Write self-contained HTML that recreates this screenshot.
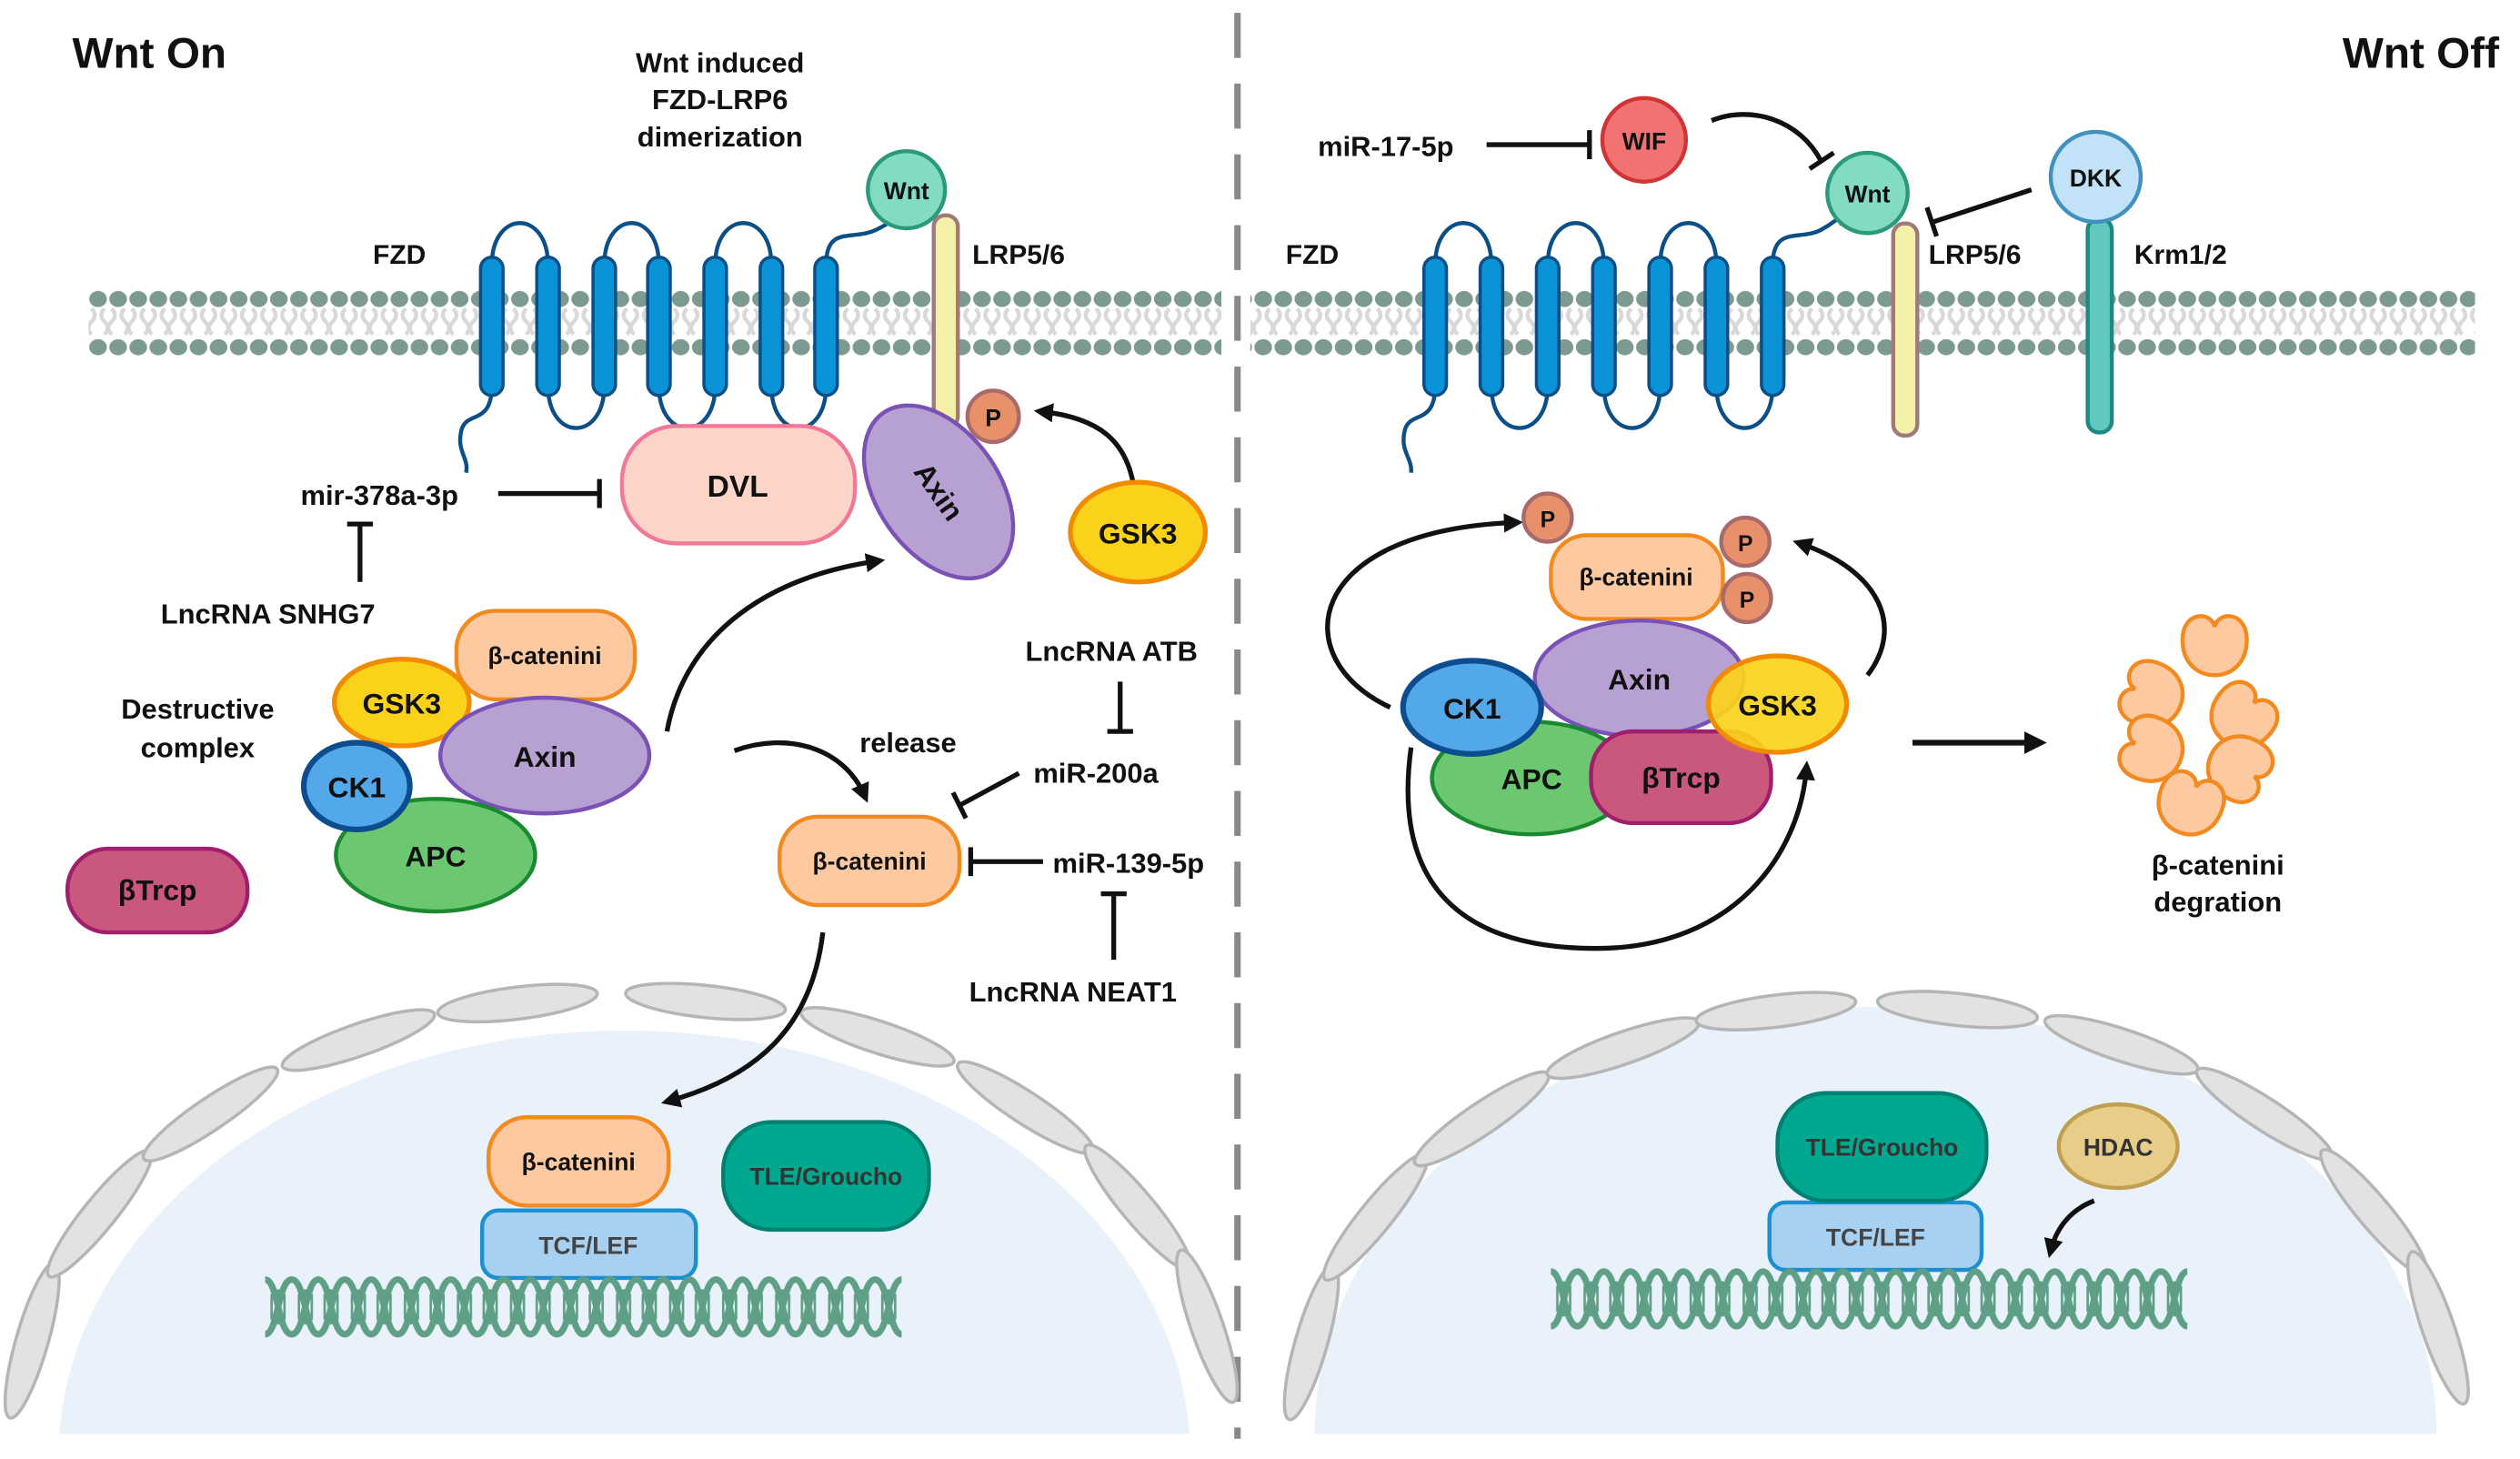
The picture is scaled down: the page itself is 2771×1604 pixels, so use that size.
<!DOCTYPE html>
<html><head><meta charset="utf-8"><style>
html,body{margin:0;padding:0;background:#fff;}
svg{display:block;}
text{font-family:"Liberation Sans",sans-serif;font-weight:bold;fill:#111;}
</style></head><body>
<svg width="2771" height="1604" viewBox="0 0 1568 907.6" xmlns="http://www.w3.org/2000/svg">
<defs>
<pattern id="heads" x="55" y="180" width="12.5" height="42" patternUnits="userSpaceOnUse">
<ellipse cx="6" cy="6" rx="5.5" ry="5" fill="#7d9a91"/>
<ellipse cx="6" cy="36" rx="5.5" ry="5" fill="#7d9a91"/>
<path d="M2,12 q4,4 0,8 q-4,4 0,8 M10,12 q-4,4 0,8 q4,4 0,8" stroke="#d8d8d8" stroke-width="2.5" fill="none"/>
</pattern>
<pattern id="dna" x="165" y="793" width="33" height="40" patternUnits="userSpaceOnUse">
<path d="M0,3 C8,3 8,37 16.5,37 C25,37 25,3 33,3" stroke="#5f9f85" stroke-width="4" fill="none"/>
<path d="M0,37 C8,37 8,3 16.5,3 C25,3 25,37 33,37" stroke="#5f9f85" stroke-width="4" fill="none"/>
<path d="M4,12 v16 M8,9 v22 M12,12 v16 M21,12 v16 M25,9 v22 M29,12 v16" stroke="#5f9f85" stroke-width="1.5"/>
</pattern>
<pattern id="dna2" x="965" y="788" width="33" height="40" patternUnits="userSpaceOnUse">
<path d="M0,3 C8,3 8,37 16.5,37 C25,37 25,3 33,3" stroke="#5f9f85" stroke-width="4" fill="none"/>
<path d="M0,37 C8,37 8,3 16.5,3 C25,3 25,37 33,37" stroke="#5f9f85" stroke-width="4" fill="none"/>
<path d="M4,12 v16 M8,9 v22 M12,12 v16 M21,12 v16 M25,9 v22 M29,12 v16" stroke="#5f9f85" stroke-width="1.5"/>
</pattern>
<marker id="ar" viewBox="0 0 10 10" refX="6" refY="5" markerWidth="4" markerHeight="4" orient="auto-start-reverse"><path d="M0,0 L10,5 L0,10 z" fill="#111"/></marker>
</defs>

<line x1="770" y1="8" x2="770" y2="895" stroke="#888" stroke-width="4" stroke-dasharray="28,16"/>

<rect x="55" y="180" width="705" height="42" fill="url(#heads)"/>
<rect x="778" y="180" width="762" height="42" fill="url(#heads)"/>

<path d="M37,892 A352,265 0 0 1 740,892 Z" fill="#e9f1fa"/>
<path d="M818,892 A348,265 0 0 1 1516,892 Z" fill="#e9f1fa"/>
<g fill="#e2e2e2" stroke="#b5b5b5" stroke-width="2">
<ellipse cx="20" cy="834" rx="50" ry="10" transform="rotate(106 20 834)"/>
<ellipse cx="62" cy="755" rx="50" ry="10" transform="rotate(129 62 755)"/>
<ellipse cx="131" cy="693" rx="50" ry="10" transform="rotate(146 131 693)"/>
<ellipse cx="223" cy="647" rx="50" ry="10" transform="rotate(161 223 647)"/>
<ellipse cx="322" cy="624" rx="50" ry="10" transform="rotate(173 322 624)"/>
<ellipse cx="439" cy="623" rx="50" ry="10" transform="rotate(186 439 623)"/>
<ellipse cx="546" cy="645" rx="50" ry="10" transform="rotate(198 546 645)"/>
<ellipse cx="638" cy="689" rx="50" ry="10" transform="rotate(213 638 689)"/>
<ellipse cx="708" cy="751" rx="50" ry="10" transform="rotate(230 708 751)"/>
<ellipse cx="751" cy="825" rx="50" ry="10" transform="rotate(251 751 825)"/>
<ellipse cx="816" cy="835" rx="50" ry="10" transform="rotate(106 816 835)"/>
<ellipse cx="856" cy="757" rx="50" ry="10" transform="rotate(129 856 757)"/>
<ellipse cx="922" cy="696" rx="50" ry="10" transform="rotate(146 922 696)"/>
<ellipse cx="1010" cy="652" rx="50" ry="10" transform="rotate(161 1010 652)"/>
<ellipse cx="1105" cy="629" rx="50" ry="10" transform="rotate(173 1105 629)"/>
<ellipse cx="1218" cy="628" rx="50" ry="10" transform="rotate(186 1218 628)"/>
<ellipse cx="1320" cy="650" rx="50" ry="10" transform="rotate(198 1320 650)"/>
<ellipse cx="1409" cy="693" rx="50" ry="10" transform="rotate(213 1409 693)"/>
<ellipse cx="1477" cy="754" rx="50" ry="10" transform="rotate(230 1477 754)"/>
<ellipse cx="1517" cy="826" rx="50" ry="10" transform="rotate(251 1517 826)"/>
</g>

<text x="45" y="42" font-size="27">Wnt On</text>
<text x="1555" y="42" font-size="27" text-anchor="end">Wnt Off</text>
<g font-size="17.5" text-anchor="middle">
<text x="448" y="45">Wnt induced</text>
<text x="448" y="68">FZD-LRP6</text>
<text x="448" y="91">dimerization</text>
</g>

<g stroke="#0b4f86" stroke-width="2.5" fill="none">
<path d="M306,165 C306,130 341,130 341,165 M376,165 C376,130 410,130 410,165 M445,165 C445,130 480,130 480,165"/>
<path d="M341,240 C341,275 376,275 376,240 M410,240 C410,275 445,275 445,240 M480,240 C480,275 514,275 514,240"/>
<path d="M514,165 C514,140 530,150 545,143 S555,133 558,140"/>
<path d="M306,240 C306,265 290,255 287,268 S292,285 290,294"/>
</g>
<g fill="#0a93d6" stroke="#0b4f86" stroke-width="2">
<rect x="299" y="160" width="14" height="86" rx="7"/><rect x="334" y="160" width="14" height="86" rx="7"/>
<rect x="369" y="160" width="14" height="86" rx="7"/><rect x="403" y="160" width="14" height="86" rx="7"/>
<rect x="438" y="160" width="14" height="86" rx="7"/><rect x="473" y="160" width="14" height="86" rx="7"/>
<rect x="507" y="160" width="14" height="86" rx="7"/>
</g>
<rect x="581" y="134" width="15" height="132" rx="7" fill="#f5f0a8" stroke="#a07a7a" stroke-width="2.5"/>
<circle cx="564" cy="118" r="24" fill="#82dcc4" stroke="#2a9a7a" stroke-width="2.5"/>
<text x="564" y="124" font-size="15" text-anchor="middle">Wnt</text>
<text x="232" y="164" font-size="17">FZD</text>
<text x="605" y="164" font-size="17">LRP5/6</text>
<circle cx="618" cy="259" r="16" fill="#e8906a" stroke="#a86a6a" stroke-width="2.5"/>
<text x="618" y="265" font-size="15" text-anchor="middle">P</text>
<path d="M705,300 C700,275 685,260 648,256" stroke="#111" stroke-width="3" fill="none" marker-end="url(#ar)"/>
<ellipse cx="708" cy="331" rx="42" ry="31" fill="#fbd21a" stroke="#f28a00" stroke-width="3"/>
<text x="708" y="338" font-size="18" text-anchor="middle">GSK3</text>
<rect x="387" y="265" width="145" height="73" rx="34" fill="#fdd5c8" stroke="#f27898" stroke-width="2.5"/>
<text x="459" y="309" font-size="19" text-anchor="middle">DVL</text>
<g transform="rotate(55 584 306)">
<ellipse cx="584" cy="306" rx="60" ry="38" fill="#b7a0d2" stroke="#7a52b6" stroke-width="2.5"/>
<text x="584" y="312" font-size="18" text-anchor="middle">Axin</text>
</g>

<text x="187" y="314" font-size="17.5">mir-378a-3p</text>
<path d="M310,307 H372 M373,298 V316" stroke="#111" stroke-width="3"/>
<path d="M224,362 V326 M216,326 H232" stroke="#111" stroke-width="3"/>
<text x="100" y="388" font-size="17.5">LncRNA SNHG7</text>
<text x="123" y="447" font-size="17.5" text-anchor="middle">Destructive</text>
<text x="123" y="471" font-size="17.5" text-anchor="middle">complex</text>

<rect x="284" y="380" width="111" height="55" rx="24" fill="#fdc9a0" stroke="#f28a20" stroke-width="2.5"/>
<text x="339" y="413" font-size="15" text-anchor="middle">β-catenini</text>
<ellipse cx="250" cy="437" rx="42" ry="27" fill="#fbd21a" stroke="#f28a00" stroke-width="3"/>
<text x="250" y="444" font-size="18" text-anchor="middle">GSK3</text>
<ellipse cx="339" cy="470" rx="65" ry="36" fill="#b7a0d2" stroke="#7a52b6" stroke-width="2.5"/>
<text x="339" y="477" font-size="18" text-anchor="middle">Axin</text>
<ellipse cx="271" cy="532" rx="62" ry="35" fill="#6cc870" stroke="#1a8a30" stroke-width="2.5"/>
<text x="271" y="539" font-size="18" text-anchor="middle">APC</text>
<ellipse cx="222" cy="489" rx="33" ry="27" fill="#52a8e8" stroke="#0b4d8e" stroke-width="3.5"/>
<text x="222" y="496" font-size="18" text-anchor="middle">CK1</text>
<rect x="42" y="528" width="112" height="52" rx="25" fill="#c9587c" stroke="#a01e6e" stroke-width="2.5"/>
<text x="98" y="560" font-size="18" text-anchor="middle">βTrcp</text>

<path d="M415,455 C425,400 470,360 546,349" stroke="#111" stroke-width="3" fill="none" marker-end="url(#ar)"/>
<text x="565" y="468" font-size="17.5" text-anchor="middle">release</text>
<path d="M457,467 C490,455 525,465 538,495" stroke="#111" stroke-width="3" fill="none" marker-end="url(#ar)"/>
<rect x="485" y="508" width="112" height="55" rx="24" fill="#fdc9a0" stroke="#f28a20" stroke-width="2.5"/>
<text x="541" y="541" font-size="15" text-anchor="middle">β-catenini</text>
<text x="638" y="411" font-size="17.5">LncRNA ATB</text>
<path d="M697,424 V455 M689,455 H705" stroke="#111" stroke-width="3"/>
<text x="643" y="487" font-size="17.5">miR-200a</text>
<path d="M634,481 L597,501 M593,493 L601,509" stroke="#111" stroke-width="3"/>
<text x="655" y="543" font-size="17.5">miR-139-5p</text>
<path d="M649,536 H604 M604,527 V545" stroke="#111" stroke-width="3"/>
<path d="M693,597 V556 M685,556 H701" stroke="#111" stroke-width="3"/>
<text x="603" y="623" font-size="17.5">LncRNA NEAT1</text>
<path d="M512,580 C505,640 470,670 416,685" stroke="#111" stroke-width="3" fill="none" marker-end="url(#ar)"/>

<rect x="300" y="753" width="133" height="42" rx="10" fill="#a8d0f0" stroke="#1a90d0" stroke-width="2.5"/>
<text x="366" y="780" font-size="15" text-anchor="middle" style="fill:#444">TCF/LEF</text>
<rect x="304" y="695" width="112" height="55" rx="24" fill="#fdc9a0" stroke="#f28a20" stroke-width="2.5"/>
<text x="360" y="728" font-size="15" text-anchor="middle">β-catenini</text>
<rect x="450" y="698" width="128" height="67" rx="30" fill="#00a890" stroke="#008070" stroke-width="2.5"/>
<text x="514" y="737" font-size="15" text-anchor="middle" style="fill:#333">TLE/Groucho</text>
<rect x="165" y="793" width="396" height="40" fill="url(#dna)"/>

<text x="820" y="97" font-size="17.5">miR-17-5p</text>
<path d="M925,90 H988 M989,81 V99" stroke="#111" stroke-width="3"/>
<circle cx="1023" cy="87" r="26" fill="#f07272" stroke="#d03434" stroke-width="2.5"/>
<text x="1023" y="93" font-size="15" text-anchor="middle">WIF</text>
<path d="M1065,75 C1090,65 1120,75 1133,100 M1126,105 L1141,95" stroke="#111" stroke-width="3" fill="none"/>
<g stroke="#0b4f86" stroke-width="2.5" fill="none">
<path d="M893,165 C893,130 928,130 928,165 M963,165 C963,130 998,130 998,165 M1033,165 C1033,130 1068,130 1068,165"/>
<path d="M928,240 C928,275 963,275 963,240 M998,240 C998,275 1033,275 1033,240 M1068,240 C1068,275 1103,275 1103,240"/>
<path d="M1103,165 C1103,140 1120,150 1133,143 S1143,133 1146,140"/>
<path d="M893,240 C893,265 877,255 874,268 S879,285 878,294"/>
</g>
<g fill="#0a93d6" stroke="#0b4f86" stroke-width="2">
<rect x="886" y="160" width="14" height="86" rx="7"/><rect x="921" y="160" width="14" height="86" rx="7"/>
<rect x="956" y="160" width="14" height="86" rx="7"/><rect x="991" y="160" width="14" height="86" rx="7"/>
<rect x="1026" y="160" width="14" height="86" rx="7"/><rect x="1061" y="160" width="14" height="86" rx="7"/>
<rect x="1096" y="160" width="14" height="86" rx="7"/>
</g>
<rect x="1178" y="139" width="15" height="132" rx="7" fill="#f5f0a8" stroke="#a07a7a" stroke-width="2.5"/>
<circle cx="1162" cy="120" r="25" fill="#82dcc4" stroke="#2a9a7a" stroke-width="2.5"/>
<text x="1162" y="126" font-size="15" text-anchor="middle">Wnt</text>
<rect x="1299" y="136" width="15" height="133" rx="7" fill="#5fc9bf" stroke="#1f8880" stroke-width="2.5"/>
<circle cx="1304" cy="110" r="28" fill="#c2e2f8" stroke="#4090c0" stroke-width="2.5"/>
<text x="1304" y="116" font-size="15" text-anchor="middle">DKK</text>
<path d="M1264,118 L1203,138 M1199,129 L1205,147" stroke="#111" stroke-width="3"/>
<text x="800" y="164" font-size="17">FZD</text>
<text x="1200" y="164" font-size="17">LRP5/6</text>
<text x="1328" y="164" font-size="17">Krm1/2</text>

<path d="M865,440 C800,410 810,330 943,325" stroke="#111" stroke-width="3" fill="none" marker-end="url(#ar)"/>
<path d="M1162,420 C1185,390 1170,355 1120,338" stroke="#111" stroke-width="3" fill="none" marker-end="url(#ar)"/>
<path d="M878,465 C865,560 920,590 993,590 C1080,590 1120,530 1124,478" stroke="#111" stroke-width="3" fill="none" marker-end="url(#ar)"/>
<rect x="965" y="333" width="107" height="52" rx="22" fill="#fdc9a0" stroke="#f28a20" stroke-width="2.5"/>
<text x="1018" y="364" font-size="15" text-anchor="middle">β-catenini</text>
<g fill="#e8906a" stroke="#a86a6a" stroke-width="2.5">
<circle cx="963" cy="322" r="15"/><circle cx="1086" cy="337" r="15"/><circle cx="1087" cy="372" r="15"/>
</g>
<g font-size="14" text-anchor="middle"><text x="963" y="328">P</text><text x="1086" y="343">P</text><text x="1087" y="378">P</text></g>
<ellipse cx="1020" cy="422" rx="65" ry="36" fill="#b7a0d2" stroke="#7a52b6" stroke-width="2.5"/>
<text x="1020" y="429" font-size="18" text-anchor="middle">Axin</text>
<ellipse cx="953" cy="484" rx="62" ry="35" fill="#6cc870" stroke="#1a8a30" stroke-width="2.5"/>
<text x="953" y="491" font-size="18" text-anchor="middle">APC</text>
<rect x="990" y="455" width="112" height="57" rx="26" fill="#c9587c" stroke="#a01e6e" stroke-width="2.5"/>
<text x="1046" y="490" font-size="18" text-anchor="middle">βTrcp</text>
<ellipse cx="1106" cy="438" rx="43" ry="30" fill="#fbd21a" stroke="#f28a00" stroke-width="3" fill-opacity="0.92"/>
<text x="1106" y="445" font-size="18" text-anchor="middle">GSK3</text>
<ellipse cx="916" cy="440" rx="43" ry="29" fill="#52a8e8" stroke="#0b4d8e" stroke-width="3.5"/>
<text x="916" y="447" font-size="18" text-anchor="middle">CK1</text>
<path d="M1190,462 H1268" stroke="#111" stroke-width="3.5" marker-end="url(#ar)"/>
<g fill="#fdc9a0" stroke="#f28a20" stroke-width="2.5">
<path d="M1358,398 c0,-18 18,-18 20,-8 c2,-10 20,-10 20,8 c0,15 -10,22 -20,22 c-10,0 -20,-7 -20,-22z"/>
<path d="M1318,430 c0,-18 18,-18 20,-8 c2,-10 20,-10 20,8 c0,15 -10,22 -20,22 c-10,0 -20,-7 -20,-22z" transform="rotate(-70 1338 432)"/>
<path d="M1376,443 c0,-18 18,-18 20,-8 c2,-10 20,-10 20,8 c0,15 -10,22 -20,22 c-10,0 -20,-7 -20,-22z" transform="rotate(40 1396 445)"/>
<path d="M1318,464 c0,-18 18,-18 20,-8 c2,-10 20,-10 20,8 c0,15 -10,22 -20,22 c-10,0 -20,-7 -20,-22z" transform="rotate(-70 1338 466)"/>
<path d="M1374,476 c0,-18 18,-18 20,-8 c2,-10 20,-10 20,8 c0,15 -10,22 -20,22 c-10,0 -20,-7 -20,-22z" transform="rotate(120 1394 478)"/>
<path d="M1343,497 c0,-18 18,-18 20,-8 c2,-10 20,-10 20,8 c0,15 -10,22 -20,22 c-10,0 -20,-7 -20,-22z" transform="rotate(20 1363 499)"/>
</g>
<text x="1380" y="544" font-size="17.5" text-anchor="middle">β-catenini</text>
<text x="1380" y="567" font-size="17.5" text-anchor="middle">degration</text>

<rect x="1101" y="748" width="132" height="42" rx="10" fill="#a8d0f0" stroke="#1a90d0" stroke-width="2.5"/>
<text x="1167" y="775" font-size="15" text-anchor="middle" style="fill:#444">TCF/LEF</text>
<rect x="1106" y="680" width="130" height="67" rx="30" fill="#00a890" stroke="#008070" stroke-width="2.5"/>
<text x="1171" y="719" font-size="15" text-anchor="middle" style="fill:#333">TLE/Groucho</text>
<ellipse cx="1318" cy="713" rx="37" ry="26" fill="#e8cd88" stroke="#c0a050" stroke-width="2.5"/>
<text x="1318" y="719" font-size="15" text-anchor="middle" style="fill:#333">HDAC</text>
<path d="M1303,747 C1290,752 1280,762 1276,778" stroke="#111" stroke-width="3" fill="none" marker-end="url(#ar)"/>
<rect x="965" y="788" width="396" height="40" fill="url(#dna2)"/>
</svg>
</body></html>
